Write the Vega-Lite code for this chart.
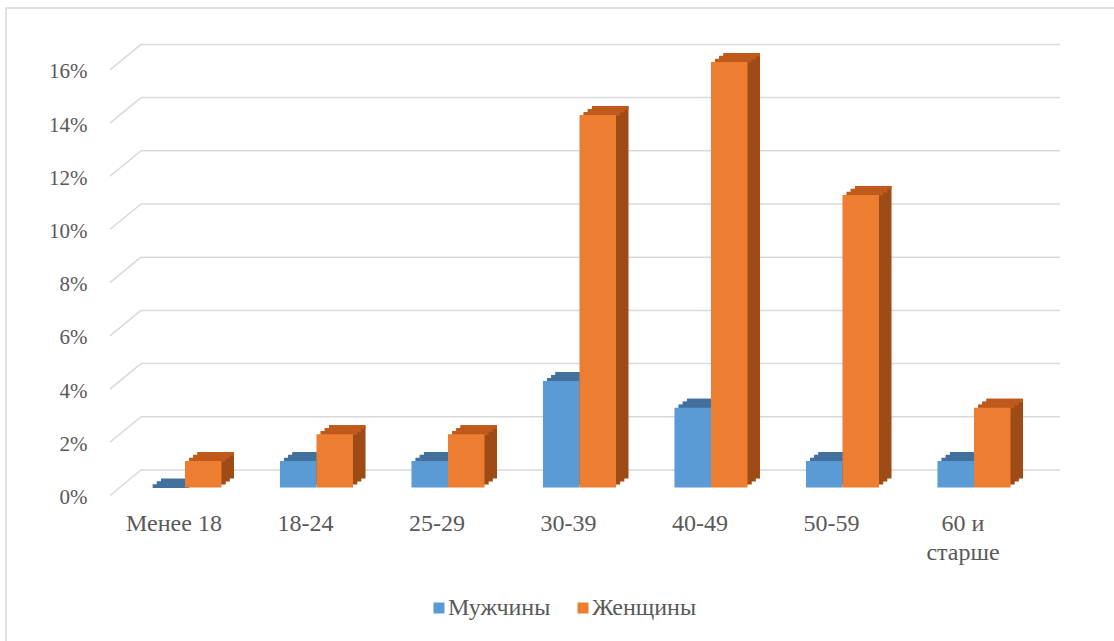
{
  "$schema": "https://vega.github.io/schema/vega-lite/v6.json",
  "width": 1110,
  "height": 640,
  "autosize": {"type": "none"},
  "padding": {"left": 6, "top": 8, "right": 0, "bottom": 0},
  "background": "white",
  "config": {
    "view": {"stroke": "#D9D9D9", "strokeWidth": 1.5},
    "font": "Liberation Serif",
    "axisX": {"domain": false, "ticks": false, "tickSize": 0, "grid": false, "labelPadding": -137, "labelOffset": -11, "labelFontSize": 24, "labelColor": "#595959", "labelFont": "Liberation Serif", "labelAngle": 0, "labelBaseline": "top", "labelOverlap": false, "labelLimit": 0, "labelLineHeight": 29},
    "axisY": {"domain": false, "ticks": false, "tickSize": 0, "grid": false, "labelPadding": -81, "labelOffset": 10, "labelFontSize": 21, "labelColor": "#595959", "labelFont": "Liberation Serif", "labelAlign": "right"}
  },
  "datasets": {
    "bars": [
      {"group": "Менее 18", "sex": "Мужчины", "value": 0},
      {"group": "Менее 18", "sex": "Женщины", "value": 0.01},
      {"group": "18-24", "sex": "Мужчины", "value": 0.01},
      {"group": "18-24", "sex": "Женщины", "value": 0.02},
      {"group": "25-29", "sex": "Мужчины", "value": 0.01},
      {"group": "25-29", "sex": "Женщины", "value": 0.02},
      {"group": "30-39", "sex": "Мужчины", "value": 0.04},
      {"group": "30-39", "sex": "Женщины", "value": 0.14},
      {"group": "40-49", "sex": "Мужчины", "value": 0.03},
      {"group": "40-49", "sex": "Женщины", "value": 0.16},
      {"group": "50-59", "sex": "Мужчины", "value": 0.01},
      {"group": "50-59", "sex": "Женщины", "value": 0.11},
      {"group": "60 и старше", "sex": "Мужчины", "value": 0.01},
      {"group": "60 и старше", "sex": "Женщины", "value": 0.03}
    ],
    "ticks": [
      {"value": 0}, {"value": 0.02}, {"value": 0.04}, {"value": 0.06}, {"value": 0.08},
      {"value": 0.1}, {"value": 0.12}, {"value": 0.14}, {"value": 0.16}
    ]
  },
  "encoding": {
    "x": {"field": "group", "type": "nominal", "sort": null,
          "axis": {"title": null, "labelExpr": "datum.value == '60 и старше' ? ['60 и', 'старше'] : datum.label"},
          "scale": {"type": "band", "domain": ["Менее 18", "18-24", "25-29", "30-39", "40-49", "50-59", "60 и старше"], "paddingInner": 0, "paddingOuter": 0.7205, "align": 0.5976}},
    "y": {"field": "value", "type": "quantitative",
          "axis": {"title": null, "values": [0, 0.02, 0.04, 0.06, 0.08, 0.1, 0.12, 0.14, 0.16], "format": ".0%"},
          "scale": {"domain": [-0.06034, 0.18026], "nice": false, "zero": false}}
  },
  "layer": [
    {
      "data": {"name": "ticks"},
      "mark": {"type": "rule", "color": "#D9D9D9", "strokeWidth": 1.5, "xOffset": 21.75, "x2Offset": 20, "yOffset": -17.5, "y2Offset": -17.5},
      "encoding": {
        "x": {"datum": "Менее 18", "type": "nominal", "bandPosition": 0,
              "axis": {"title": null, "labelExpr": "datum.value == '60 и старше' ? ['60 и', 'старше'] : datum.label"}},
        "x2": {"datum": "60 и старше", "bandPosition": 1},
        "y2": {"field": "value"}
      }
    },
    {
      "data": {"name": "ticks"},
      "mark": {"type": "rule", "color": "#D9D9D9", "strokeWidth": 1.5, "xOffset": -9.25, "x2Offset": 21.75, "yOffset": 8, "y2Offset": -17.5},
      "encoding": {
        "x": {"datum": "Менее 18", "type": "nominal", "bandPosition": 0,
              "axis": {"title": null, "labelExpr": "datum.value == '60 и старше' ? ['60 и', 'старше'] : datum.label"}},
        "x2": {"datum": "Менее 18", "bandPosition": 0},
        "y2": {"field": "value"}
      }
    },
    {
      "data": {"name": "bars"},
      "mark": {"type": "bar", "yOffset": -9, "y2Offset": -9},
      "encoding": {
        "xOffset": {"field": "sex", "type": "nominal", "scale": {"domain": ["Мужчины", "Женщины"], "range": [12.5, 144], "paddingInner": 0, "paddingOuter": 0.8}},
        "y2": {"datum": 0},
        "fill": {"condition": {"test": "datum.sex === 'Мужчины'", "value": "#3A6690"}, "value": "#9E4B15"}
      }
    },
    {
      "data": {"name": "bars"},
      "mark": {"type": "bar", "yOffset": -6, "y2Offset": -6},
      "encoding": {
        "xOffset": {"field": "sex", "type": "nominal", "scale": {"domain": ["Мужчины", "Женщины"], "range": [8.3, 139.8], "paddingInner": 0, "paddingOuter": 0.8}},
        "y2": {"datum": 0},
        "fill": {"condition": {"test": "datum.sex === 'Мужчины'", "value": "#3A6690"}, "value": "#9E4B15"}
      }
    },
    {
      "data": {"name": "bars"},
      "mark": {"type": "bar", "yOffset": -3, "y2Offset": -3},
      "encoding": {
        "xOffset": {"field": "sex", "type": "nominal", "scale": {"domain": ["Мужчины", "Женщины"], "range": [4.2, 135.7], "paddingInner": 0, "paddingOuter": 0.8}},
        "y2": {"datum": 0},
        "fill": {"condition": {"test": "datum.sex === 'Мужчины'", "value": "#3A6690"}, "value": "#9E4B15"}
      }
    },
    {
      "data": {"name": "bars"},
      "mark": {"type": "bar", "yOffset": -3.2, "y2Offset": 0.6},
      "encoding": {
        "xOffset": {"field": "sex", "type": "nominal", "scale": {"domain": ["Мужчины", "Женщины"], "range": [4.2, 135.7], "paddingInner": 0, "paddingOuter": 0.8}},
        "y2": {"field": "value"},
        "fill": {"condition": {"test": "datum.sex === 'Мужчины'", "value": "#41719C"}, "value": "#C05A1C"}
      }
    },
    {
      "data": {"name": "bars"},
      "mark": {"type": "bar", "yOffset": -6.2, "y2Offset": -2.5},
      "encoding": {
        "xOffset": {"field": "sex", "type": "nominal", "scale": {"domain": ["Мужчины", "Женщины"], "range": [8.3, 139.8], "paddingInner": 0, "paddingOuter": 0.8}},
        "y2": {"field": "value"},
        "fill": {"condition": {"test": "datum.sex === 'Мужчины'", "value": "#41719C"}, "value": "#C05A1C"}
      }
    },
    {
      "data": {"name": "bars"},
      "mark": {"type": "bar", "yOffset": -9, "y2Offset": -5.5},
      "encoding": {
        "xOffset": {"field": "sex", "type": "nominal", "scale": {"domain": ["Мужчины", "Женщины"], "range": [12.5, 144], "paddingInner": 0, "paddingOuter": 0.8}},
        "y2": {"field": "value"},
        "fill": {"condition": {"test": "datum.sex === 'Мужчины'", "value": "#41719C"}, "value": "#C05A1C"}
      }
    },
    {
      "data": {"name": "bars"},
      "mark": {"type": "bar"},
      "encoding": {
        "xOffset": {"field": "sex", "type": "nominal", "scale": {"domain": ["Мужчины", "Женщины"], "paddingInner": 0, "paddingOuter": 0.8}},
        "y2": {"datum": 0},
        "color": {"field": "sex", "type": "nominal",
                  "scale": {"domain": ["Мужчины", "Женщины"], "range": ["#5B9BD5", "#ED7D31"]},
                  "legend": {"title": null, "orient": "none", "legendX": 421, "legendY": 588, "direction": "horizontal", "symbolType": "square", "symbolSize": 121, "symbolStrokeWidth": 0, "labelFontSize": 24, "labelOffset": -3, "columnPadding": 20, "labelColor": "#595959", "labelFont": "Liberation Serif"}}
      }
    }
  ],
  "resolve": {"scale": {"xOffset": "independent"}}
}
